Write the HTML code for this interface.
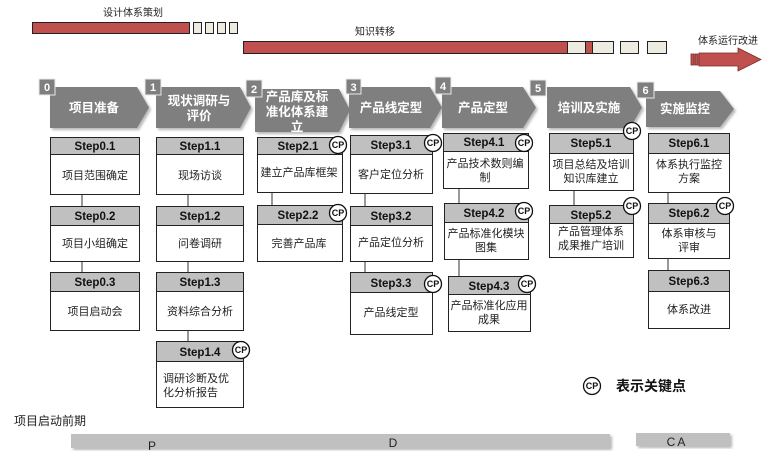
<!DOCTYPE html>
<html><head><meta charset="utf-8"><style>
html,body{margin:0;padding:0;background:#fff;}
svg{display:block;font-family:"Liberation Sans","Noto Sans CJK SC",sans-serif;}
.h{font-weight:bold;font-size:11.5px;fill:#111;}
.t{font-size:11px;fill:#222;}
.c{font-size:12.5px;fill:#fff;font-weight:bold;}
.n{font-size:11px;fill:#fff;font-weight:bold;}
.cp{font-size:9px;font-weight:bold;fill:#111;}
</style></head><body>
<svg width="770" height="460" viewBox="0 0 770 460" xmlns="http://www.w3.org/2000/svg">
<defs>
<filter id="sh" x="-10%" y="-10%" width="130%" height="130%"><feDropShadow dx="2" dy="2" stdDeviation="1.2" flood-color="#999" flood-opacity="0.7"/></filter>
</defs>
<text x="133" y="16" text-anchor="middle" style="font-size:10px;fill:#222">设计体系策划</text>
<rect x="32.5" y="22.5" width="157" height="11" fill="#c0504d" stroke="#222"/>
<g fill="#eeece1" stroke="#222">
<rect x="193.5" y="22.5" width="8" height="11"/><rect x="205.5" y="22.5" width="8" height="11"/><rect x="217.5" y="22.5" width="8" height="11"/><rect x="229.5" y="22.5" width="8" height="11"/>
</g>
<text x="375" y="35" text-anchor="middle" style="font-size:10px;fill:#222">知识转移</text>
<rect x="243.5" y="41.5" width="324" height="12" fill="#c0504d" stroke="#222"/>
<g stroke="#222">
<rect x="567.5" y="41.5" width="18" height="12" fill="#eeece1"/>
<rect x="585.5" y="41.5" width="7" height="12" fill="#c0504d"/>
<rect x="592.5" y="41.5" width="21" height="12" fill="#eeece1"/>
<rect x="620.5" y="41.5" width="18" height="12" fill="#eeece1"/>
<rect x="647.5" y="41.5" width="19" height="12" fill="#eeece1"/>
</g>
<text x="728" y="44" text-anchor="middle" style="font-size:10px;fill:#222">体系运行改进</text>
<g stroke="#7a2a28" stroke-width="0.8" fill="#c0504d">
<rect x="691" y="54" width="3" height="11"/><rect x="695" y="54" width="3" height="11"/>
<polygon points="699,53 738,53 738,48 761,59.5 738,71 738,66 699,66"/>
</g>
<g fill="#7f7f7f" filter="url(#sh)">
<polygon points="50,87 137,87 149,107.5 137,128 50,128"/>
<polygon points="156,87 240,87 251,107.5 240,128 156,128"/>
<polygon points="255,89 339,89 350,110 339,132 255,132"/>
<polygon points="349,87 430,87 442,107.5 430,128 349,128"/>
<polygon points="442,87 523,87 536,107.5 523,128 442,128"/>
<polygon points="547,87 630,87 642,107.5 630,128 547,128"/>
<polygon points="646,91 720,91 734,109 720,127 646,127"/>
</g>
<g fill="#7f7f7f" stroke="#e8e8e8" stroke-width="1">
<rect x="39" y="79" width="16" height="16"/>
<rect x="145" y="79" width="16" height="16"/>
<rect x="246" y="80" width="16" height="17"/>
<rect x="346" y="79" width="15" height="15"/>
<rect x="435" y="77" width="16" height="17"/>
<rect x="530" y="80" width="16" height="16"/>
<rect x="637" y="82" width="17" height="16"/>
</g>
<g class="n" text-anchor="middle">
<text x="47" y="91">0</text><text x="153" y="91">1</text><text x="254" y="93">2</text><text x="353.5" y="91">3</text><text x="443" y="90">4</text><text x="538" y="92">5</text><text x="645.5" y="94">6</text>
</g>
<g class="c" text-anchor="middle">
<text x="94" y="112">项目准备</text>
<text x="199" y="105">现状调研与</text><text x="199" y="120">评价</text>
<text x="297" y="101">产品库及标</text><text x="297" y="116">准化体系建</text><text x="297" y="131">立</text>
<text x="391" y="112">产品线定型</text>
<text x="483" y="112">产品定型</text>
<text x="589" y="112">培训及实施</text>
<text x="685" y="113">实施监控</text>
</g>
<g stroke="#333" stroke-width="1">
<line x1="82" y1="194" x2="82" y2="206"/><line x1="82" y1="261" x2="82" y2="272"/>
<line x1="188" y1="194" x2="188" y2="206"/><line x1="188" y1="261" x2="188" y2="272"/><line x1="188" y1="330" x2="188" y2="341"/>
<line x1="272" y1="192" x2="272" y2="205"/>
<line x1="365" y1="193" x2="365" y2="206"/><line x1="365" y1="261" x2="365" y2="272"/>
<line x1="459" y1="188" x2="459" y2="203"/><line x1="459" y1="259" x2="459" y2="276"/>
<line x1="574" y1="190" x2="574" y2="205"/>
<line x1="668" y1="192" x2="668" y2="203"/><line x1="668" y1="258" x2="668" y2="270"/>
</g>
<g stroke="#222" stroke-width="1">
<rect x="50.5" y="137.5" width="89" height="57" fill="#fff"/><rect x="50.5" y="137.5" width="89" height="17" fill="#c0c0c0"/>
<rect x="50.5" y="206.5" width="89" height="55" fill="#fff"/><rect x="50.5" y="206.5" width="89" height="19" fill="#c0c0c0"/>
<rect x="50.5" y="272.5" width="89" height="58" fill="#fff"/><rect x="50.5" y="272.5" width="89" height="19" fill="#c0c0c0"/>
<rect x="156.5" y="137.5" width="87" height="57" fill="#fff"/><rect x="156.5" y="137.5" width="87" height="17" fill="#c0c0c0"/>
<rect x="156.5" y="206.5" width="87" height="55" fill="#fff"/><rect x="156.5" y="206.5" width="87" height="19" fill="#c0c0c0"/>
<rect x="156.5" y="272.5" width="87" height="58" fill="#fff"/><rect x="156.5" y="272.5" width="87" height="19" fill="#c0c0c0"/>
<rect x="156.5" y="341.5" width="87" height="66" fill="#fff"/><rect x="156.5" y="341.5" width="87" height="20" fill="#c0c0c0"/>
<rect x="257.5" y="137.5" width="85" height="55" fill="#fff"/><rect x="257.5" y="137.5" width="85" height="17" fill="#c0c0c0"/>
<rect x="257.5" y="205.5" width="85" height="56" fill="#fff"/><rect x="257.5" y="205.5" width="85" height="19" fill="#c0c0c0"/>
<rect x="350.5" y="135.5" width="82" height="58" fill="#fff"/><rect x="350.5" y="135.5" width="82" height="19" fill="#c0c0c0"/>
<rect x="350.5" y="206.5" width="82" height="55" fill="#fff"/><rect x="350.5" y="206.5" width="82" height="19" fill="#c0c0c0"/>
<rect x="350.5" y="272.5" width="82" height="62" fill="#fff"/><rect x="350.5" y="272.5" width="82" height="20" fill="#c0c0c0"/>
<rect x="443.5" y="133.5" width="85" height="55" fill="#fff"/><rect x="443.5" y="133.5" width="85" height="18" fill="#c0c0c0"/>
<rect x="444.5" y="203.5" width="84" height="56" fill="#fff"/><rect x="444.5" y="203.5" width="84" height="19" fill="#c0c0c0"/>
<rect x="448.5" y="276.5" width="82" height="55" fill="#fff"/><rect x="448.5" y="276.5" width="82" height="18" fill="#c0c0c0"/>
<rect x="549.5" y="133.5" width="84" height="57" fill="#fff"/><rect x="549.5" y="133.5" width="84" height="20" fill="#c0c0c0"/>
<rect x="549.5" y="205.5" width="84" height="52" fill="#fff"/><rect x="549.5" y="205.5" width="84" height="18" fill="#c0c0c0"/>
<rect x="648.5" y="133.5" width="81" height="59" fill="#fff"/><rect x="648.5" y="133.5" width="81" height="20" fill="#c0c0c0"/>
<rect x="648.5" y="203.5" width="81" height="55" fill="#fff"/><rect x="648.5" y="203.5" width="81" height="20" fill="#c0c0c0"/>
<rect x="648.5" y="270.5" width="81" height="58" fill="#fff"/><rect x="648.5" y="270.5" width="81" height="21" fill="#c0c0c0"/>
</g>
<g class="h" text-anchor="middle">
<text x="95" y="150">Step0.1</text><text x="95" y="220">Step0.2</text><text x="95" y="286">Step0.3</text>
<text x="200" y="150">Step1.1</text><text x="200" y="220">Step1.2</text><text x="200" y="286">Step1.3</text><text x="200" y="356">Step1.4</text>
<text x="298" y="150">Step2.1</text><text x="298" y="219">Step2.2</text>
<text x="391" y="149">Step3.1</text><text x="391" y="220">Step3.2</text><text x="391" y="287">Step3.3</text>
<text x="484" y="146">Step4.1</text><text x="484" y="217">Step4.2</text><text x="489" y="290">Step4.3</text>
<text x="591" y="147">Step5.1</text><text x="591" y="219">Step5.2</text>
<text x="689" y="147">Step6.1</text><text x="689" y="217">Step6.2</text><text x="689" y="285">Step6.3</text>
</g>
<g class="t" text-anchor="middle">
<text x="95" y="179">项目范围确定</text><text x="95" y="247">项目小组确定</text><text x="95" y="315">项目启动会</text>
<text x="200" y="179">现场访谈</text><text x="200" y="247">问卷调研</text><text x="200" y="315">资料综合分析</text>
<text x="163" y="382" text-anchor="start">调研诊断及优</text><text x="163" y="396" text-anchor="start">化分析报告</text>
<text x="299" y="176">建立产品库框架</text><text x="299" y="247">完善产品库</text>
<text x="391" y="178">客户定位分析</text><text x="391" y="246">产品定位分析</text><text x="391" y="316">产品线定型</text>
<text x="485" y="167">产品技术数则编</text><text x="485" y="181">制</text>
<text x="486" y="237">产品标准化模块</text><text x="486" y="251">图集</text>
<text x="489" y="309">产品标准化应用</text><text x="489" y="323">成果</text>
<text x="591" y="168">项目总结及培训</text><text x="591" y="182">知识库建立</text>
<text x="591" y="235">产品管理体系</text><text x="591" y="249">成果推广培训</text>
<text x="689" y="168">体系执行监控</text><text x="689" y="182">方案</text>
<text x="689" y="237">体系审核与</text><text x="689" y="251">评审</text>
<text x="689" y="313">体系改进</text>
</g>
<g>
<g transform="translate(241,350)"><circle r="8.5" fill="#fff" stroke="#111" stroke-width="1.3"/><text class="cp" y="3.2" text-anchor="middle">CP</text></g>
<g transform="translate(338,145)"><circle r="8.5" fill="#fff" stroke="#111" stroke-width="1.3"/><text class="cp" y="3.2" text-anchor="middle">CP</text></g>
<g transform="translate(338,213)"><circle r="8.5" fill="#fff" stroke="#111" stroke-width="1.3"/><text class="cp" y="3.2" text-anchor="middle">CP</text></g>
<g transform="translate(433,143)"><circle r="8.5" fill="#fff" stroke="#111" stroke-width="1.3"/><text class="cp" y="3.2" text-anchor="middle">CP</text></g>
<g transform="translate(433,284)"><circle r="8.5" fill="#fff" stroke="#111" stroke-width="1.3"/><text class="cp" y="3.2" text-anchor="middle">CP</text></g>
<g transform="translate(524,143)"><circle r="8.5" fill="#fff" stroke="#111" stroke-width="1.3"/><text class="cp" y="3.2" text-anchor="middle">CP</text></g>
<g transform="translate(524,211)"><circle r="8.5" fill="#fff" stroke="#111" stroke-width="1.3"/><text class="cp" y="3.2" text-anchor="middle">CP</text></g>
<g transform="translate(527,284)"><circle r="8.5" fill="#fff" stroke="#111" stroke-width="1.3"/><text class="cp" y="3.2" text-anchor="middle">CP</text></g>
<g transform="translate(632,131)"><circle r="8.5" fill="#fff" stroke="#111" stroke-width="1.3"/><text class="cp" y="3.2" text-anchor="middle">CP</text></g>
<g transform="translate(632,206)"><circle r="8.5" fill="#fff" stroke="#111" stroke-width="1.3"/><text class="cp" y="3.2" text-anchor="middle">CP</text></g>
<g transform="translate(725,206)"><circle r="8.5" fill="#fff" stroke="#111" stroke-width="1.3"/><text class="cp" y="3.2" text-anchor="middle">CP</text></g>
<g transform="translate(592,386)"><circle r="8.5" fill="#fff" stroke="#111" stroke-width="1.3"/><text class="cp" y="3.2" text-anchor="middle">CP</text></g>
</g>
<text x="616" y="391" style="font-size:14px;font-weight:bold;fill:#111">表示关键点</text>
<text x="14" y="425" style="font-size:12px;fill:#222">项目启动前期</text>
<rect x="71" y="434" width="539" height="14" fill="#c0c0c0" filter="url(#sh)"/>
<rect x="636" y="433" width="94" height="13" fill="#c0c0c0" filter="url(#sh)"/>
<text x="152" y="450" text-anchor="middle" style="font-size:12px;fill:#222">P</text>
<text x="393" y="447" text-anchor="middle" style="font-size:12px;fill:#222">D</text>
<text x="677" y="446" text-anchor="middle" style="font-size:12px;fill:#222;letter-spacing:2px">CA</text>
</svg>
</body></html>
